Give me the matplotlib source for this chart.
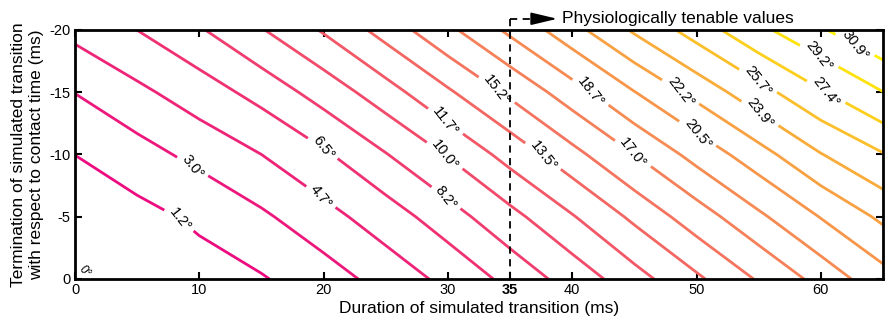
import numpy as np
import matplotlib
matplotlib.use("Agg")
import matplotlib.pyplot as plt
from matplotlib.colors import LinearSegmentedColormap, Normalize

plt.rcParams['font.family'] = ['Liberation Sans', 'DejaVu Sans']

# Grid of the field (angle in degrees)
duration = [0, 5, 10, 15, 20, 25, 30, 35, 40, 45, 50, 55, 60, 65]      # ms
termination = [0, -5, -10, -15, -20]                                    # ms
angle_y0   = [0.00, 0.12, 0.40, 1.05, 2.22, 3.62, 5.17, 6.99, 8.95, 11.01, 13.19, 15.38, 17.60, 19.84]
angle_y5   = [0.30, 0.60, 1.55, 2.72, 4.08, 5.63, 7.44, 9.47, 11.57, 13.88, 16.13, 18.37, 20.58, 22.56]
angle_y10  = [1.21, 2.34, 3.50, 4.70, 6.24, 8.12, 10.13, 12.35, 14.66, 17.00, 19.31, 21.54, 23.83, 25.60]
angle_y15  = [3.04, 4.30, 5.62, 7.11, 8.94, 10.97, 13.25, 15.55, 17.95, 20.45, 22.75, 25.06, 27.23, 29.17]
angle_y20  = [5.19, 6.51, 8.02, 9.89, 11.88, 14.19, 16.60, 19.07, 21.62, 24.14, 26.48, 28.78, 30.72, 32.50]

levels = [1.2, 3.0, 4.7, 6.5, 8.2, 10.0, 11.7, 13.5, 15.2, 17.0, 18.7,
          20.5, 22.2, 23.9, 25.7, 27.4, 29.2, 30.9]

xticks = [0, 10, 20, 30, 35, 40, 50, 60]
yticks = [0, -5, -10, -15, -20]
threshold = 35
annot_text = "Physiologically tenable values"

# label positions (data coords)
label_pos = [(8.6, -5.0), (9.8, -9.6), (20, -6.9), (20, -10.6), (29.9, -6.6),
             (29.8, -10.0), (29.9, -12.8), (37.6, -9.8), (34.0, -15.3),
             (44.9, -10.1), (41.4, -14.9), (50.1, -11.7), (48.7, -15.0),
             (55.1, -13.3), (55.0, -16.0), (60.3, -14.8), (59.7, -17.6),
             (62.7, -18.7)]

Z = np.array([angle_y0, angle_y5, angle_y10, angle_y15, angle_y20])
X, Y = np.meshgrid(duration, termination)

cmap = LinearSegmentedColormap.from_list(
    "pk", ["#EC0C80", "#F0406E", "#F47B5E", "#F9A83E", "#FFF200"])
norm = Normalize(vmin=levels[0], vmax=levels[-1])

fig = plt.figure(figsize=(8.89, 3.26), dpi=100)
ax = fig.add_axes([0.0844, 0.1442, 0.9089, 0.7638])

cs = ax.contour(X, Y, Z, levels=levels, cmap=cmap, norm=norm, linewidths=2.0)
fmt = {lv: f"{lv:.1f}°" for lv in levels}
texts = ax.clabel(cs, levels=levels, fmt=fmt, manual=label_pos, inline=True,
                  inline_spacing=5, fontsize=10.5, colors='black')
for t in texts:
    t.set_rotation(-52)

ax.text(0.1, -0.6, "0°", fontsize=8.5, rotation=-52, ha='left', va='center')

ax.set_xlim(0, 65)
ax.set_ylim(0, -20)
ax.set_xticks(xticks)
ax.set_xticklabels([str(t) for t in xticks])
ax.set_yticks(yticks)
ax.set_yticklabels([str(t) for t in yticks])
for lab in ax.get_xticklabels():
    if lab.get_text() == str(threshold):
        lab.set_fontweight('bold')
ax.tick_params(direction='in', top=True, right=True, length=5, width=1.5,
               labelsize=10.5, pad=3)
for s in ax.spines.values():
    s.set_linewidth(2.0)

ax.set_xlabel("Duration of simulated transition (ms)", fontsize=12.5, labelpad=3)
ax.set_ylabel("Termination of simulated transition\nwith respect to contact time (ms)",
              fontsize=12.5, labelpad=4, linespacing=1.25)

# threshold annotation
ytop = -20.9
ax.plot([threshold, threshold], [0, ytop], color='black', ls=(0, (4, 3)),
        lw=1.3, clip_on=False)
ax.plot([threshold, 37.0], [ytop, ytop], color='black', ls=(0, (4, 3)),
        lw=1.3, clip_on=False)
ax.annotate("", xy=(38.8, ytop), xytext=(36.8, ytop),
            arrowprops=dict(arrowstyle='-|>,head_length=1.6,head_width=0.38',
                            color='black', lw=1.3, shrinkA=0, shrinkB=0),
            annotation_clip=False)
ax.text(39.2, ytop, annot_text, fontsize=12.5, ha='left', va='center')

fig.savefig("out.png", dpi=100)
